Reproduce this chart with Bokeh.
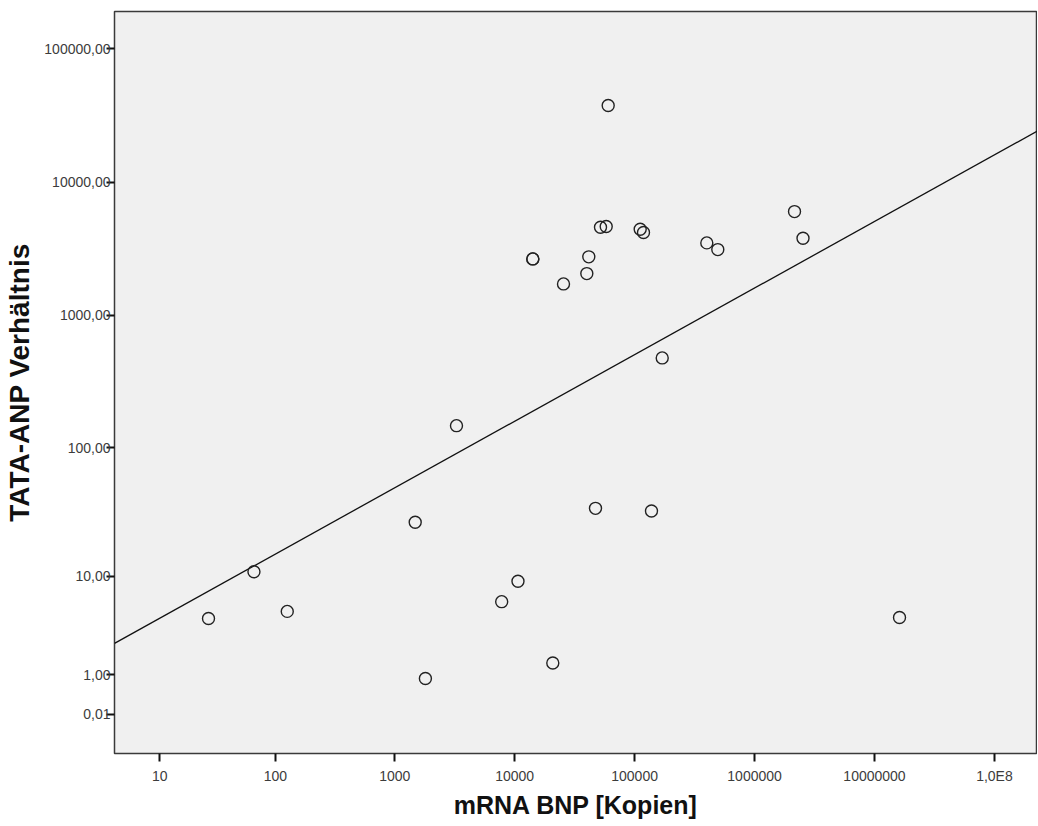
import numpy as np
from bokeh.plotting import figure
from bokeh.models import Range1d, FixedTicker
from bokeh.embed import file_html
from bokeh.resources import INLINE

# mRNA BNP [Kopien] (x) and TATA-ANP Verhältnis (y)
mrna_bnp = [27, 66, 126, 1800, 1480, 3270, 7790, 10650, 20780, 14160, 14160,
            25520, 39930, 41480, 47170, 51930, 57940, 60190, 111260, 118550,
            138200, 169800, 399700, 493600, 2153000, 2534000, 16160000]
tata_anp = [4.3, 10.9, 5.0, 0.88, 27.0, 147.6, 6.1, 9.1, 1.46, 2650, 2650,
            1720, 2055, 2745, 34.6, 4578, 4634, 37520, 4422, 4177,
            33.0, 478, 3495, 3113, 6002, 3786, 4.4]

x_tick_values = [10, 100, 1000, 10000, 100000, 1000000, 10000000, 100000000]
x_tick_labels = ["10", "100", "1000", "10000", "100000", "1000000", "10000000", "1,0E8"]
y_tick_values = [0.01, 1, 10, 100, 1000, 10000, 100000]
y_tick_labels = ["0,01", "1,00", "10,00", "100,00", "1000,00", "10000,00", "100000,00"]

FONT = "Liberation Sans"

# the axes show log10(value + 1)
xp = np.array(mrna_bnp, dtype=float) + 1
yp = np.array(tata_anp, dtype=float) + 1

p = figure(frame_width=923, frame_height=742,
           x_axis_type="log", y_axis_type="log",
           x_range=Range1d(4.607, 2.285e8), y_range=Range1d(0.5148, 190550),
           output_backend="svg", toolbar_location=None,
           min_border_left=114, min_border_right=0, min_border_top=11, min_border_bottom=64)

p.background_fill_color = "#f0f0f0"
p.border_fill_color = "white"
p.outline_line_color = "#3a3a3a"
p.outline_line_width = 1.5
p.xgrid.visible = False
p.ygrid.visible = False

# regression line in transformed space
b1, b0 = np.polyfit(np.log10(xp), np.log10(yp), 1)
lx = np.array([p.x_range.start, p.x_range.end])
ly = 10 ** (b0 + b1 * np.log10(lx))
p.line(lx, ly, line_color="#111111", line_width=1.3)

p.scatter(xp, yp, marker="circle", size=12, fill_color=None,
          line_color="#222222", line_width=1.4)

xt = [v + 1 for v in x_tick_values]
yt = [v + 1 for v in y_tick_values]
p.xaxis.ticker = FixedTicker(ticks=xt, minor_ticks=[])
p.yaxis.ticker = FixedTicker(ticks=yt, minor_ticks=[])
p.xaxis.major_label_overrides = {t: l for t, l in zip(xt, x_tick_labels)}
p.yaxis.major_label_overrides = {t: l for t, l in zip(yt, y_tick_labels)}

for ax in (p.xaxis[0], p.yaxis[0]):
    ax.axis_line_color = None
    ax.major_tick_in = 0
    ax.major_tick_out = 8
    ax.major_tick_line_width = 2
    ax.major_tick_line_color = "#111111"
    ax.minor_tick_line_color = None
    ax.major_label_text_font = FONT
    ax.major_label_text_font_size = "14px"
    ax.major_label_text_color = "#3c3c3c"
    ax.axis_label_text_font = FONT
    ax.axis_label_text_font_style = "bold"
    ax.axis_label_text_color = "#111111"

p.xaxis.axis_label = "mRNA BNP [Kopien]"
p.yaxis.axis_label = "TATA-ANP Verhältnis"
p.xaxis.axis_label_text_font_size = "25px"
p.yaxis.axis_label_text_font_size = "28px"
p.xaxis.major_label_standoff = 6
p.yaxis.major_label_standoff = -4
p.xaxis.axis_label_standoff = 4
p.yaxis.axis_label_standoff = 6

open("out.html", "w").write(file_html(p, INLINE))
